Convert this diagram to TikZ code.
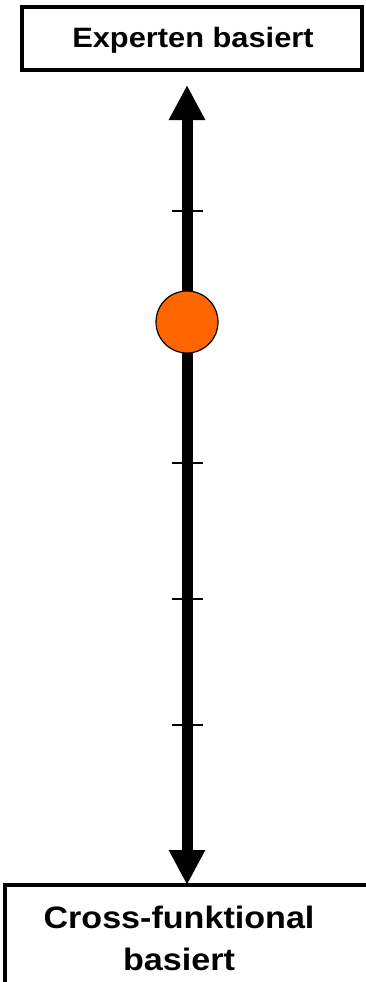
\documentclass[tikz,border=0pt]{standalone}
\usepackage{fontspec}
\setmainfont{Liberation Sans}
\newfontfamily\boxfont[FakeStretch=1.1]{Liberation Sans}
\usetikzlibrary{arrows.meta,positioning}
\definecolor{dotorange}{RGB}{255,102,0}

\begin{document}
\begin{tikzpicture}[x=1pt,y=-1pt,every node/.style={font=\boxfont\bfseries}]
\useasboundingbox (0,0) rectangle (365,982);
\coordinate (top) at (187,85);
\coordinate (bot) at (187,885);
\draw[line width=3.5pt] (22,7) rectangle (362,70);
\node (expert) at (193,40) {\fontsize{28}{34}\selectfont Experten basiert};
\draw[line width=3.5pt] (5,1000) |- (380,885);
\node[align=center,font=\boxfont\bfseries\fontsize{31}{42}\selectfont] (cross) at (179,938) {Cross-funktional\\basiert};
\draw[line width=11pt,{Triangle[length=35pt,width=34pt]}-{Triangle[length=35pt,width=34pt]}] (top)--(bot);
\foreach \ty in {211,463,599,725}
  \draw[line width=1.3pt] (172,\ty)--(203,\ty);
\node[circle,draw,line width=1.2pt,fill=dotorange,minimum size=62pt,inner sep=0pt] (dot) at (187,322) {};
\end{tikzpicture}
\end{document}
